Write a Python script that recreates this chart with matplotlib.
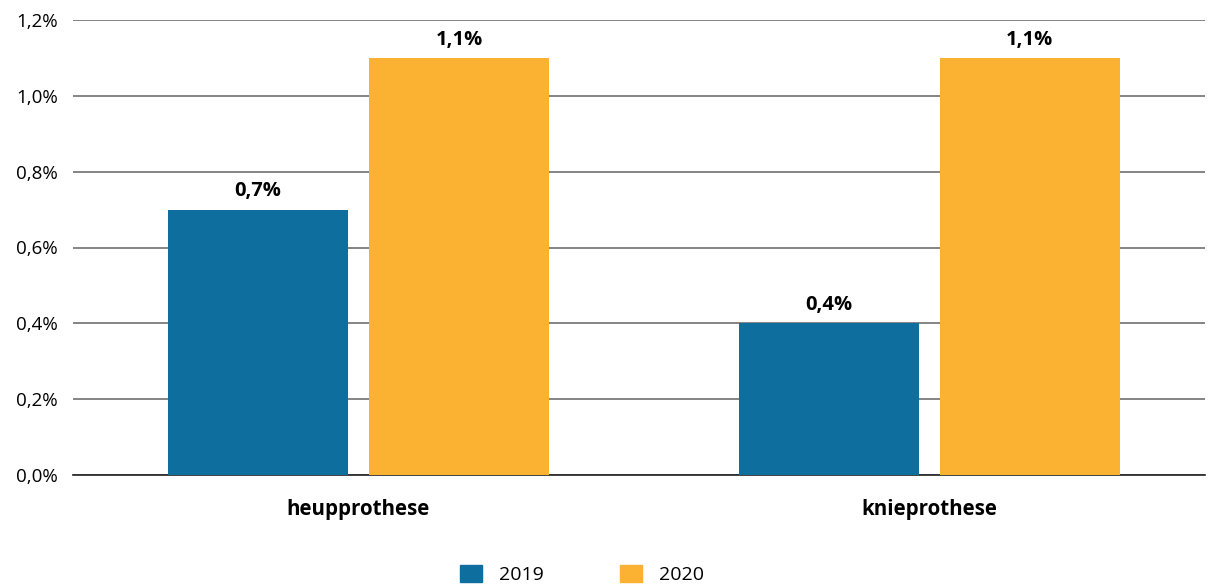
import matplotlib
matplotlib.use("Agg")
import matplotlib.pyplot as plt
import numpy as np
from matplotlib.patches import Patch

categories = ["heupprothese", "knieprothese"]
years = ["2019", "2020"]
values_2019 = [0.7, 0.4]
values_2020 = [1.1, 1.1]
yticks = [0.0, 0.2, 0.4, 0.6, 0.8, 1.0, 1.2]

blue = "#0e6e9e"
orange = "#fbb232"

plt.rcParams["font.family"] = ["Open Sans", "DejaVu Sans"]

fig = plt.figure(figsize=(12.12, 5.84), dpi=100)
ax = fig.add_axes([73 / 1212, 1 - 475 / 584, (1205 - 73) / 1212, (475 - 20) / 584])

x = np.arange(len(categories))
w = 0.315
off = 0.176
b1 = ax.bar(x - off, values_2019, w, color=blue, zorder=3)
b2 = ax.bar(x + off, values_2020, w, color=orange, zorder=3)

def fmt(v):
    return f"{v:.1f}%".replace(".", ",")

for bars, vals in [(b1, values_2019), (b2, values_2020)]:
    for rect, v in zip(bars, vals):
        ax.annotate(fmt(v), (rect.get_x() + rect.get_width() / 2, v),
                    xytext=(0, 6), textcoords="offset points",
                    ha="center", va="bottom", fontsize=14.5, fontweight="bold")

ax.set_xlim(-0.5, 1.483)
ax.set_ylim(0, 1.2)
ax.set_yticks(yticks)
ax.set_yticklabels([fmt(t) for t in yticks], fontsize=13.5)
ax.yaxis.grid(True, color="#6f6f6f", linewidth=1.2, zorder=0)
ax.set_xticks(x)
ax.set_xticklabels(categories, fontsize=14.8, fontweight="bold")
ax.tick_params(axis="y", length=0, pad=11)
ax.tick_params(axis="x", length=0, pad=17)
for s in ["top", "right", "left"]:
    ax.spines[s].set_visible(False)
ax.spines["bottom"].set_color("#222222")
ax.spines["bottom"].set_linewidth(1.2)

handles = [Patch(color=blue, label=years[0]), Patch(color=orange, label=years[1])]
fig.legend(handles=handles, ncol=2, loc="lower center", bbox_to_anchor=(0.48, -0.03),
           frameon=False, fontsize=14, handlelength=1.13, handleheight=1.0,
           columnspacing=3.9, handletextpad=0.88)

fig.savefig("out.png", dpi=100)
